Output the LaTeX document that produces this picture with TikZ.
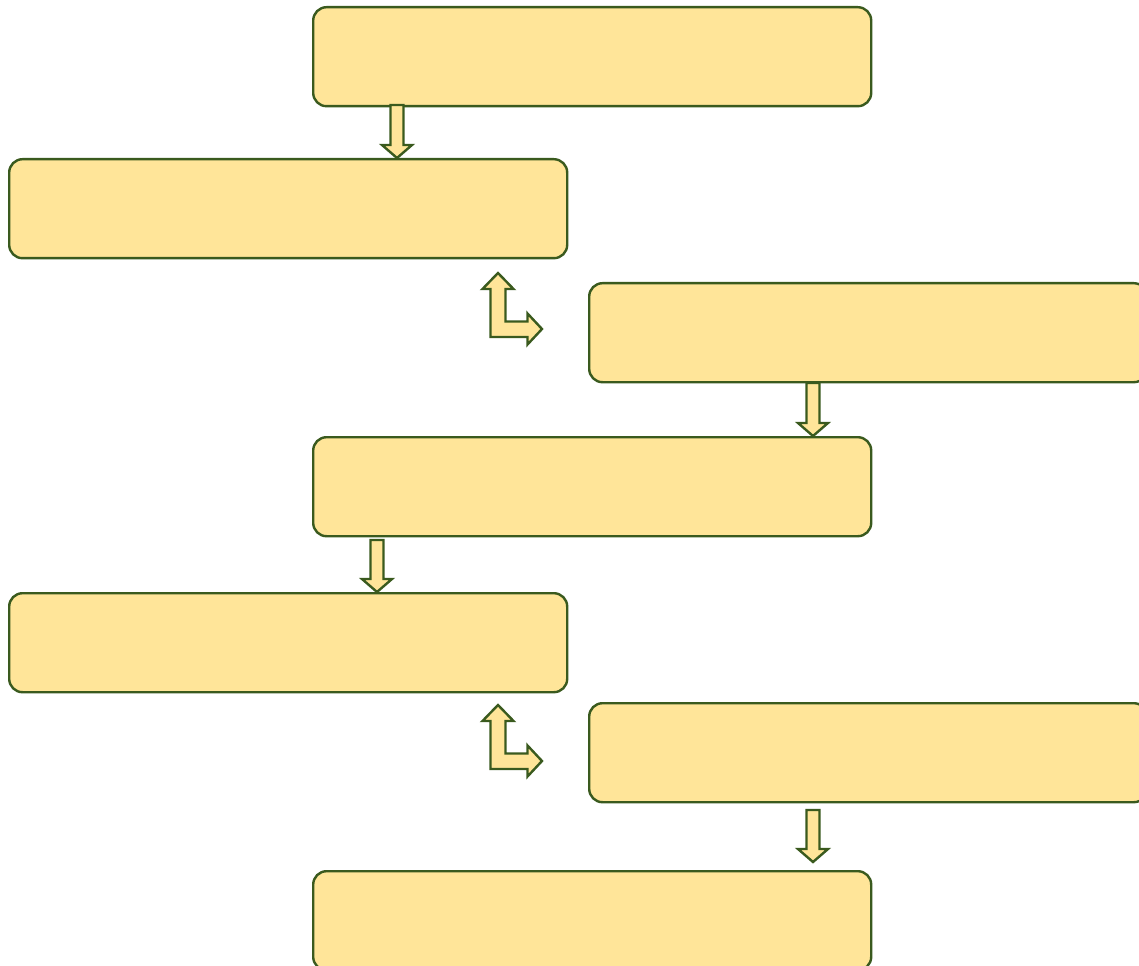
\documentclass[tikz,border=0pt]{standalone}
\usetikzlibrary{calc}
\definecolor{boxfill}{HTML}{FFE599}
\definecolor{boxline}{HTML}{3A5A1E}
\newcommand\downblock[3]{%
  \draw[blockarr] (#1-6.5,#2) -- (#1+6.5,#2) -- (#1+6.5,#3-13) -- (#1+15,#3-13) -- (#1,#3) -- (#1-15,#3-13) -- (#1-6.5,#3-13) -- cycle;}
\newcommand\lblock[2]{% #1 = dx, #2 = dy offset
  \begin{scope}[shift={(#1,#2)}]
  \draw[blockarr] (498,273) -- (513.5,289) -- (505.5,289) -- (505.5,321.5) -- (527.5,321.5) -- (527.5,313.5) -- (542,329) -- (527.5,344.5) -- (527.5,337) -- (490.5,337) -- (490.5,289) -- (482.5,289) -- cycle;
  \end{scope}}
\begin{document}
\begin{tikzpicture}[x=0.75pt,y=-0.75pt,
  stepbox/.style={draw=boxline, fill=boxfill, line width=1.8pt, rounded corners=10pt,
    minimum width=418.5pt, minimum height=74.25pt, inner sep=0pt, anchor=north west},
  blockarr/.style={draw=boxline, fill=boxfill, line width=1.8pt, line join=miter}]
\useasboundingbox (0,0) rectangle (1139,966);
\node[stepbox] (b1) at (312,6) {};
\node[stepbox] (b2) at (8,158) {};
\node[stepbox] (b3) at (588,282) {};
\node[stepbox] (b4) at (312,436) {};
\node[stepbox] (b5) at (8,592) {};
\node[stepbox] (b6) at (588,702) {};
\node[stepbox] (b7) at (312,870) {};
\downblock{397}{105}{158}
\downblock{813}{383}{436}
\downblock{377}{540}{592}
\downblock{813}{810}{862}
\lblock{0}{0}
\lblock{0}{432}
\end{tikzpicture}
\end{document}
